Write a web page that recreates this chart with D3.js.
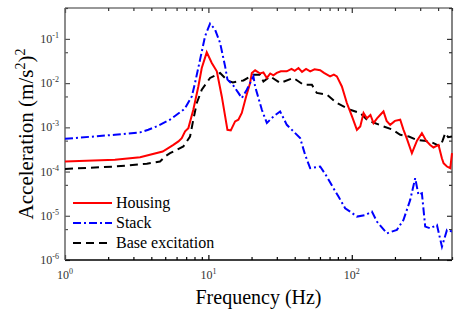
<!DOCTYPE html>
<html>
<head>
<meta charset="utf-8">
<script src="https://cdn.jsdelivr.net/npm/d3@7"></script>
<style>
  body { margin: 0; background: #fff; }
  text { font-family: "Liberation Serif", "Times New Roman", serif; }
</style>
</head>
<body>
<div id="plot"></div>
<script>
// frequency (Hz) / acceleration PSD
let housingF = [1, 2.23, 3.34, 4.8, 5.7, 6.18, 6.52, 6.88, 7.25, 7.85, 8.51, 8.99, 9.74, 10.56, 11.45, 12.4, 13.58, 14.33, 15.36, 16.19, 17.1, 18.33, 19.54, 20.09, 21.18, 22.95, 24.2, 25.57, 27, 28.4, 30, 32, 35.2, 38, 40, 42.5, 45, 48, 51.3, 55, 60.2, 64, 70.6, 75, 78.7, 85.3, 92.4, 100.2, 108.6, 114.6, 120.8, 127.5, 135, 141.8, 150, 160, 166.4, 175, 185.3, 200, 217.7, 229.5, 242.5, 262.6, 285, 308.3, 330, 352.3, 371.5, 402.7, 425, 436.5, 461, 486.4, 500]
let housingV = [1.69e-4, 1.85e-4, 2.1e-4, 2.84e-4, 4.0e-4, 4.8e-4, 5.7e-4, 8.1e-4, 9.6e-4, 2.5e-3, 8.4e-3, 0.022, 0.0497, 0.0286, 0.0185, 0.005, 8.8e-4, 8.5e-4, 1.36e-3, 1.49e-3, 2.11e-3, 5.0e-3, 0.0101, 0.017, 0.0195, 0.0165, 0.0175, 0.0131, 0.0165, 0.015, 0.017, 0.0185, 0.0185, 0.021, 0.019, 0.022, 0.018, 0.021, 0.0185, 0.0205, 0.0195, 0.017, 0.0142, 0.0155, 0.0142, 0.0084, 0.00355, 0.0018, 8.8e-4, 1.05e-3, 2.1e-3, 1.6e-3, 1.9e-3, 1.25e-3, 1.6e-3, 2.0e-3, 2.29e-3, 1.4e-3, 1.14e-3, 1.4e-3, 1.49e-3, 8.8e-4, 5.5e-4, 2.6e-4, 5.0e-4, 7.4e-4, 5.0e-4, 4.0e-4, 3.5e-4, 4.0e-4, 2.0e-4, 1.55e-4, 1.3e-4, 1.19e-4, 2.6e-4]

let stackF = [1, 2.23, 3.34, 3.81, 4.36, 5.4, 6.69, 6.88, 7.66, 8.07, 8.75, 9.48, 10.27, 11.13, 12.07, 13.08, 13.58, 14.8, 16.19, 17.1, 18.53, 20.61, 21.18, 23.59, 25.57, 28.44, 31.65, 35.22, 39.17, 43.64, 47.28, 51.25, 60.22, 66.98, 74.52, 80.77, 89.9, 97.4, 108.6, 124.1, 138.2, 149.7, 175.7, 206.4, 229.5, 255.6, 276.9, 291.9, 308.3, 325.2, 352.3, 392.6, 425.5, 461.3, 500]
let stackV = [5.5e-4, 6.8e-4, 7.7e-4, 8.8e-4, 1.05e-3, 1.49e-3, 2.5e-3, 2.74e-3, 5.0e-3, 0.0101, 0.034, 0.115, 0.222, 0.163, 0.081, 0.0239, 0.012, 0.0092, 0.006, 0.0046, 0.0071, 0.0142, 0.0084, 2.5e-3, 1.25e-3, 1.76e-3, 2.29e-3, 1.14e-3, 8.1e-4, 5.7e-4, 2.39e-4, 1.19e-4, 1.3e-4, 7.7e-5, 4.2e-5, 2.72e-5, 1.48e-5, 1.24e-5, 9.6e-6, 1.04e-5, 1.24e-5, 7.4e-6, 4.0e-6, 4.8e-6, 8.1e-6, 2.29e-5, 7.1e-5, 2.97e-5, 3.24e-5, 5.7e-6, 5.2e-6, 6.2e-6, 2.0e-6, 4.8e-6, 4.4e-6]

let baseF = [1, 2.23, 3.72, 4.6, 4.99, 5.4, 6.69, 7.45, 7.85, 8.3, 8.99, 10.27, 12.07, 13.58, 14.8, 17.55, 20.61, 22.95, 24.2, 26.96, 31.65, 39.17, 46.03, 52.69, 57.05, 66.98, 78.7, 97.4, 114.6, 127.5, 140, 166.4, 190, 217.7, 250, 284.6, 320, 371.5, 413.9, 430, 448.7, 470, 500]
let baseV = [1.15e-4, 1.3e-4, 1.5e-4, 1.69e-4, 2.19e-4, 2.6e-4, 3.7e-4, 6.2e-4, 1.49e-3, 3.55e-3, 7.1e-3, 0.0131, 0.017, 0.0115, 0.0104, 0.0115, 0.0155, 0.0155, 0.0109, 0.0142, 0.0101, 0.0131, 0.0092, 0.0092, 0.006, 0.0055, 0.00355, 0.0025, 0.00211, 0.00149, 0.0013, 0.00105, 9.0e-4, 6.8e-4, 6.2e-4, 5.2e-4, 5.0e-4, 4.4e-4, 3.7e-4, 5.0e-4, 7.4e-4, 6.0e-4, 6.2e-4]

let xMajor = [1, 10, 100]
let yMajor = [1e-6, 1e-5, 1e-4, 1e-3, 1e-2, 1e-1]

let seriesNames = ["Housing", "Stack", "Base excitation"]
let seriesColors = ["#ff0000", "#0000ff", "#000000"]
let seriesDash = [null, "8,3,2,3", "8,5"]

let svgWidth = 455
let svgHeight = 310
let margin = { top: 8, right: 3, bottom: 50, left: 65 }
let width = svgWidth - margin.left - margin.right
let height = svgHeight - margin.top - margin.bottom

let svg = d3.select("#plot")
  .append("svg")
  .attr("width", svgWidth)
  .attr("height", svgHeight)

let chart = svg.append("g")
  .attr("transform", `translate(${margin.left}, ${margin.top})`)

let x = d3.scaleLog().domain([1, 500]).range([0, width])
let y = d3.scaleLog().domain([1e-6, 0.5]).range([height, 0])

let xMinor = []
for (let d = 1; d <= 100; d *= 10)
  for (let k = 2; k <= 9; k++) if (d * k <= 500) xMinor.push(d * k)
let yMinor = yMajor.map(d => d * 5)

function styleAxis(g, color) {
  g.select(".domain").remove()
  g.selectAll("line").attr("stroke", color).attr("stroke-width", 1.2)
}

// ticks on all four sides, pointing inward
chart.append("g").attr("transform", `translate(0, ${height})`)
  .call(d3.axisBottom(x).tickValues(xMajor).tickSize(-5).tickFormat(""))
  .call(g => styleAxis(g, "#000"))
chart.append("g").attr("transform", `translate(0, ${height})`)
  .call(d3.axisBottom(x).tickValues(xMinor).tickSize(-3).tickFormat(""))
  .call(g => styleAxis(g, "#000"))
chart.append("g")
  .call(d3.axisTop(x).tickValues(xMajor).tickSize(-5).tickFormat(""))
  .call(g => styleAxis(g, "#333"))
chart.append("g")
  .call(d3.axisTop(x).tickValues(xMinor).tickSize(-3).tickFormat(""))
  .call(g => styleAxis(g, "#333"))
chart.append("g")
  .call(d3.axisLeft(y).tickValues(yMajor).tickSize(-5).tickFormat(""))
  .call(g => styleAxis(g, "#555"))
chart.append("g")
  .call(d3.axisLeft(y).tickValues(yMinor).tickSize(-3).tickFormat(""))
  .call(g => styleAxis(g, "#555"))
chart.append("g").attr("transform", `translate(${width}, 0)`)
  .call(d3.axisRight(y).tickValues(yMajor).tickSize(-5).tickFormat(""))
  .call(g => styleAxis(g, "#333"))
chart.append("g").attr("transform", `translate(${width}, 0)`)
  .call(d3.axisRight(y).tickValues(yMinor).tickSize(-3).tickFormat(""))
  .call(g => styleAxis(g, "#333"))

// frame
chart.append("line").attr("x1", 0).attr("x2", width).attr("y1", height).attr("y2", height)
  .attr("stroke", "#000").attr("stroke-width", 1.5)
chart.append("line").attr("x1", 0).attr("x2", width).attr("y1", 0).attr("y2", 0)
  .attr("stroke", "#333").attr("stroke-width", 1.2)
chart.append("line").attr("x1", 0).attr("x2", 0).attr("y1", 0).attr("y2", height)
  .attr("stroke", "#666").attr("stroke-width", 1.5)
chart.append("line").attr("x1", width).attr("x2", width).attr("y1", 0).attr("y2", height)
  .attr("stroke", "#333").attr("stroke-width", 1.2)

// tick labels as 10^n
chart.selectAll(".xlab").data(xMajor).enter().append("text")
  .attr("x", d => x(d)).attr("y", height + 19)
  .attr("text-anchor", "middle").attr("font-size", 12).attr("fill", "#333")
  .each(function(d) {
    let t = d3.select(this)
    t.append("tspan").text("10")
    t.append("tspan").attr("dy", -5).attr("font-size", 8).text(Math.round(Math.log10(d)))
  })
chart.selectAll(".ylab").data(yMajor).enter().append("text")
  .attr("x", -6).attr("y", d => y(d) + 4)
  .attr("text-anchor", "end").attr("font-size", 12).attr("fill", "#333")
  .each(function(d) {
    let t = d3.select(this)
    t.append("tspan").text("10")
    t.append("tspan").attr("dy", -5).attr("font-size", 8).text(Math.round(Math.log10(d)))
  })

// curves
let line = d3.line().x(d => x(d[0])).y(d => y(d[1]))
let series = [
  d3.zip(housingF, housingV),
  d3.zip(stackF, stackV),
  d3.zip(baseF, baseV)
]
let drawOrder = [2, 0, 1]
drawOrder.forEach(i => {
  chart.append("path")
    .datum(series[i])
    .attr("fill", "none")
    .attr("stroke", seriesColors[i])
    .attr("stroke-width", 2)
    .attr("stroke-dasharray", seriesDash[i])
    .attr("d", line)
})

// legend
let legend = chart.append("g").attr("transform", "translate(8, 195)")
seriesNames.forEach((name, i) => {
  legend.append("line")
    .attr("x1", 0).attr("x2", 39).attr("y1", i * 20).attr("y2", i * 20)
    .attr("stroke", seriesColors[i]).attr("stroke-width", 2)
    .attr("stroke-dasharray", seriesDash[i])
  legend.append("text")
    .attr("x", 43).attr("y", i * 20 + 5)
    .attr("font-size", 16).attr("fill", "#000")
    .text(name)
})

// axis titles
chart.append("text")
  .attr("x", width / 2).attr("y", height + 44)
  .attr("text-anchor", "middle").attr("font-size", 20)
  .text("Frequency (Hz)")

let yTitle = chart.append("text")
  .attr("transform", `translate(-32, ${height / 2}) rotate(-90)`)
  .attr("text-anchor", "middle").attr("font-size", 21)
yTitle.append("tspan").text("Acceleration (m/s")
yTitle.append("tspan").attr("dy", -8).attr("font-size", 14).text("2")
yTitle.append("tspan").attr("dy", 8).text(")")
yTitle.append("tspan").attr("dy", -8).attr("font-size", 14).text("2")
</script>
</body>
</html>
